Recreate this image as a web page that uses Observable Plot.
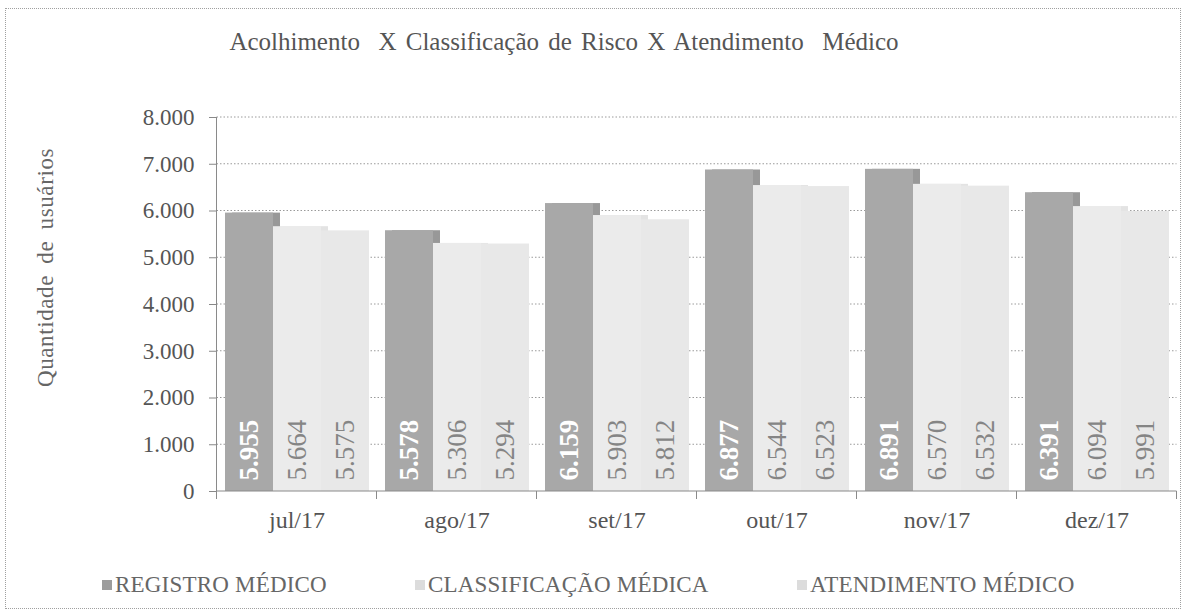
<!DOCTYPE html>
<html>
<head>
<meta charset="utf-8">
<script src="https://cdn.jsdelivr.net/npm/d3@7"></script>
<script src="https://cdn.jsdelivr.net/npm/@observablehq/plot@0.6"></script>
<style>
  html, body { margin: 0; padding: 0; background: #fff; }
  #wrap { position: relative; width: 1187px; height: 614px; font-family: "Liberation Serif", "DejaVu Serif", serif; color: #555; overflow: hidden; }
  #frame { position: absolute; left: 5px; top: 8px; width: 1176px; height: 601px; border: 1px dotted #a0a0a0; box-sizing: border-box; }
  #title { position: absolute; left: 0; top: 29px; width: 1128px; text-align: center; font-size: 25px; line-height: 25px; color: #555; word-spacing: 3px; white-space: pre; }
  #chart { position: absolute; left: 0; top: 80px; }
  #ylabel { position: absolute; left: -105px; top: 256px; width: 300px; text-align: center; font-size: 23px; line-height: 23px; transform: rotate(-90deg); color: #666; letter-spacing: 0.6px; word-spacing: 5px; white-space: nowrap; }
  .leg { position: absolute; top: 573px; font-size: 23px; line-height: 23px; color: #666; white-space: nowrap; letter-spacing: 0.2px; }
  .sw { display: inline-block; width: 10px; height: 10px; margin-right: 3px; vertical-align: 2px; }
</style>
</head>
<body>
<div id="wrap">
  <div id="frame"></div>
  <div id="title">Acolhimento  X Classificação de Risco X Atendimento  Médico</div>
  <div id="ylabel">Quantidade de usuários</div>
  <div id="chart"></div>
  <div id="legend"></div>
</div>
<script>
// ---- data ----
const months = ["jul/17", "ago/17", "set/17", "out/17", "nov/17", "dez/17"];
const series = ["REGISTRO MÉDICO", "CLASSIFICAÇÃO MÉDICA", "ATENDIMENTO MÉDICO"];
const registro = [5955, 5578, 6159, 6877, 6891, 6391];
const classificacao = [5664, 5306, 5903, 6544, 6570, 6094];
const atendimento = [5575, 5294, 5812, 6523, 6532, 5991];
const yTicks = [0, 1000, 2000, 3000, 4000, 5000, 6000, 7000, 8000];

const frontColors = ["#a8a8a8", "#ebebeb", "#e8e8e8"];
const backColors = ["#989898", "#e3e3e3", "#e3e3e3"];

const seriesValues = [registro, classificacao, atendimento];
const data = months.flatMap((m, i) => series.map((s, j) => ({month: m, series: s, value: seriesValues[j][i]})));

const locale = d3.formatLocale({decimal: ",", thousands: ".", grouping: [3], currency: ["R$", ""]});
const fmt = locale.format(",d");

const W = 1187, H = 461;
const plot = Plot.plot({
  width: W,
  height: H,
  marginLeft: 223,
  marginRight: 18,
  marginTop: 37,
  marginBottom: 50,
  style: {fontFamily: "'Liberation Serif', 'DejaVu Serif', serif", background: "transparent", color: "#555", overflow: "visible"},
  fx: {domain: months, paddingInner: 0.095, paddingOuter: 0, label: null, axis: null},
  x: {domain: series, padding: 0, axis: null},
  y: {domain: [0, 8000], ticks: yTicks, label: null, axis: null},
  color: {domain: series, range: frontColors},
  marks: [
    Plot.barY(data.filter(d => d.series !== series[2]), {
      fx: "month", x: "series", y: "value", dx: 7,
      fill: d => backColors[series.indexOf(d.series)]
    }),
    Plot.barY(data, {fx: "month", x: "series", y: "value", fill: "series"}),
    Plot.text(data.filter(d => d.series === series[0]), {
      fx: "month", x: "series", y: 0, dy: -11, text: d => fmt(d.value),
      rotate: -90, textAnchor: "start", lineAnchor: "middle",
      fontSize: 27, fontWeight: "bold", fill: "#ffffff"
    }),
    Plot.text(data.filter(d => d.series !== series[0]), {
      fx: "month", x: "series", y: 0, dy: -11, text: d => fmt(d.value),
      rotate: -90, textAnchor: "start", lineAnchor: "middle",
      fontSize: 27, fill: "#858585"
    }),
    Plot.axisY({ticks: yTicks, tickFormat: fmt, tickSize: 7, tickPadding: 15, fontSize: 23, dx: -8, label: null, stroke: "#888"}),
    Plot.axisFx({anchor: "bottom", tickSize: 0, tickPadding: 19, fontSize: 24, label: null})
  ]
});

document.getElementById("chart").appendChild(plot);

// grid, axis lines and boundary ticks from the plot's own scales
const fx = plot.scale("fx");
const y = plot.scale("y");
const step = fx.step !== undefined ? fx.step : (fx.bandwidth / (1 - 0.095));
const gap = step - fx.bandwidth;
const xs = months.map(m => fx.apply(m));
const bounds = [xs[0] - gap / 2, ...xs.slice(1).map((v) => v - gap / 2), xs[xs.length - 1] + fx.bandwidth + gap / 2];
const left = bounds[0], right = bounds[bounds.length - 1];
const svg = d3.select(plot.tagName.toLowerCase() === "svg" ? plot : plot.querySelector("svg"));
const g = svg.insert("g", ":first-child");
g.selectAll("line.grid").data(yTicks.filter(t => t > 0)).join("line")
  .attr("x1", left).attr("x2", right)
  .attr("y1", t => y.apply(t)).attr("y2", t => y.apply(t))
  .attr("stroke", "#9a9a9a").attr("stroke-dasharray", "1.5,2");
const g2 = svg.append("g").attr("stroke", "#8a8a8a");
g2.append("line").attr("x1", left).attr("x2", left).attr("y1", y.apply(8000)).attr("y2", y.apply(0) + 8);
g2.append("line").attr("x1", left).attr("x2", right).attr("y1", y.apply(0)).attr("y2", y.apply(0));
g2.selectAll("line.bt").data(bounds.slice(1)).join("line")
  .attr("x1", d => d).attr("x2", d => d)
  .attr("y1", y.apply(0)).attr("y2", y.apply(0) + 8);

// legend
const legendLeft = [102, 415, 797];
const legend = document.getElementById("legend");
series.forEach((s, i) => {
  const item = document.createElement("div");
  item.className = "leg";
  item.style.left = legendLeft[i] + "px";
  const sw = document.createElement("span");
  sw.className = "sw";
  sw.style.background = i === 0 ? "#9c9c9c" : "#dcdcdc";
  item.appendChild(sw);
  item.appendChild(document.createTextNode(s));
  legend.appendChild(item);
});
</script>
</body>
</html>
